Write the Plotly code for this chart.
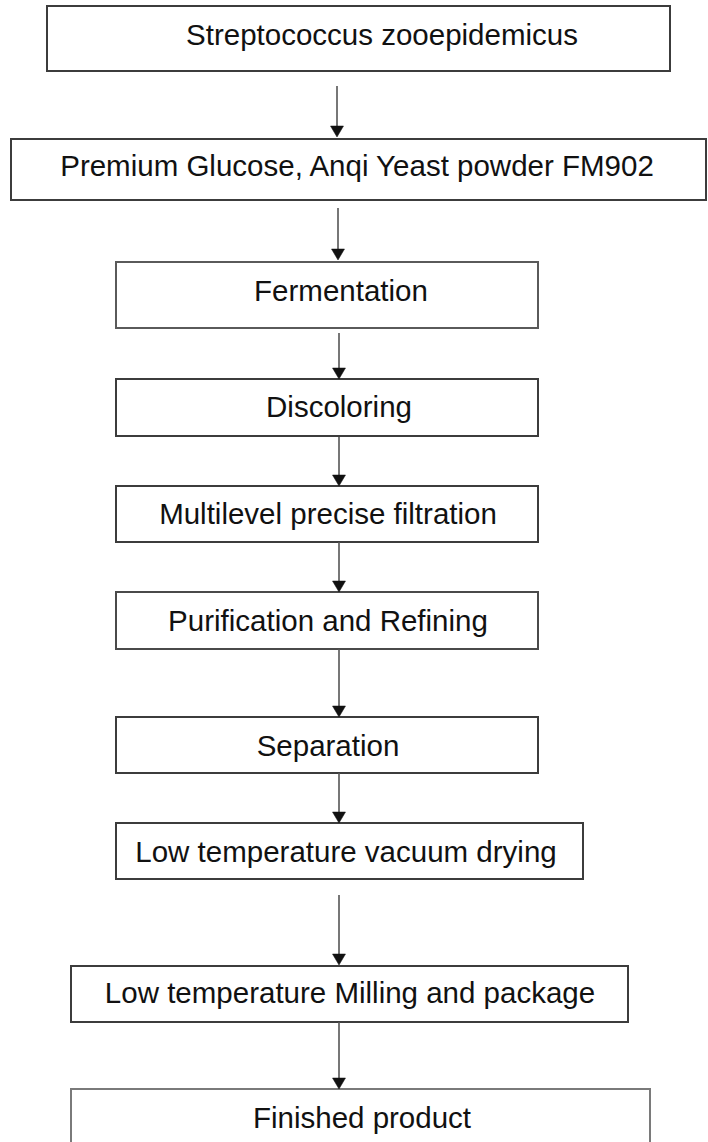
import plotly.graph_objects as go

W, H = 708, 1142

steps = [
    "Streptococcus zooepidemicus",
    "Premium Glucose, Anqi Yeast powder FM902",
    "Fermentation",
    "Discoloring",
    "Multilevel precise filtration",
    "Purification and Refining",
    "Separation",
    "Low temperature vacuum drying",
    "Low temperature Milling and package",
    "Finished product",
]
box_x0 = [47, 11, 116, 116, 116, 116, 116, 116, 71, 71]
box_x1 = [670, 706, 538, 538, 538, 538, 538, 583, 628, 650]
box_y0 = [6, 139, 262, 379, 486, 592, 717, 823, 966, 1089]
box_y1 = [71, 200, 328, 436, 542, 649, 773, 879, 1022, 1150]
box_color = ["#3c3c3c", "#3c3c3c", "#5a5a5a", "#3c3c3c", "#3c3c3c",
             "#4a4a4a", "#3c3c3c", "#3c3c3c", "#3c3c3c", "#7a7a7a"]
label_x = [382, 357, 341, 339, 328, 328, 328, 346, 350, 362]
label_y = [38, 169, 294, 410, 517, 624, 749, 855, 996, 1121]

arrow_x = [337, 338, 339, 339, 339, 339, 339, 339, 339]
arrow_y0 = [86, 208, 333, 437, 542, 649, 773, 895, 1022]
arrow_y1 = [137, 260, 379, 486, 592, 717, 823, 965, 1089]

fig = go.Figure()
shapes = []
for x0, x1, y0, y1, c in zip(box_x0, box_x1, box_y0, box_y1, box_color):
    shapes.append(dict(type="rect", xref="x", yref="y", x0=x0, x1=x1, y0=y0, y1=y1,
                       line=dict(color=c, width=2), fillcolor="white", layer="below"))

head_h, head_w = 11, 6.5
for ax, ay0, ay1 in zip(arrow_x, arrow_y0, arrow_y1):
    shapes.append(dict(type="line", xref="x", yref="y", x0=ax, x1=ax, y0=ay0, y1=ay1 - head_h + 1,
                       line=dict(color="#555555", width=1.6)))
    path = f"M {ax - head_w} {ay1 - head_h} L {ax + head_w} {ay1 - head_h} L {ax} {ay1} Z"
    shapes.append(dict(type="path", xref="x", yref="y", path=path,
                       fillcolor="#111111", line=dict(color="#111111", width=0.5)))

fig.add_trace(go.Scatter(
    x=label_x, y=label_y, mode="text", text=steps,
    textposition="middle center",
    textfont=dict(family="Liberation Sans, Arial, sans-serif", size=29.5, color="#111111"),
    hoverinfo="skip", showlegend=False,
))

fig.update_layout(
    width=W, height=H,
    margin=dict(l=0, r=0, t=0, b=0),
    paper_bgcolor="white", plot_bgcolor="white",
    shapes=shapes,
    xaxis=dict(range=[0, W], visible=False, fixedrange=True),
    yaxis=dict(range=[H, 0], visible=False, fixedrange=True),
    showlegend=False,
)

fig.write_html(
    "out.html",
    config={"displayModeBar": False},
    post_script="document.body.style.margin='0';document.body.style.overflow='hidden';",
)
